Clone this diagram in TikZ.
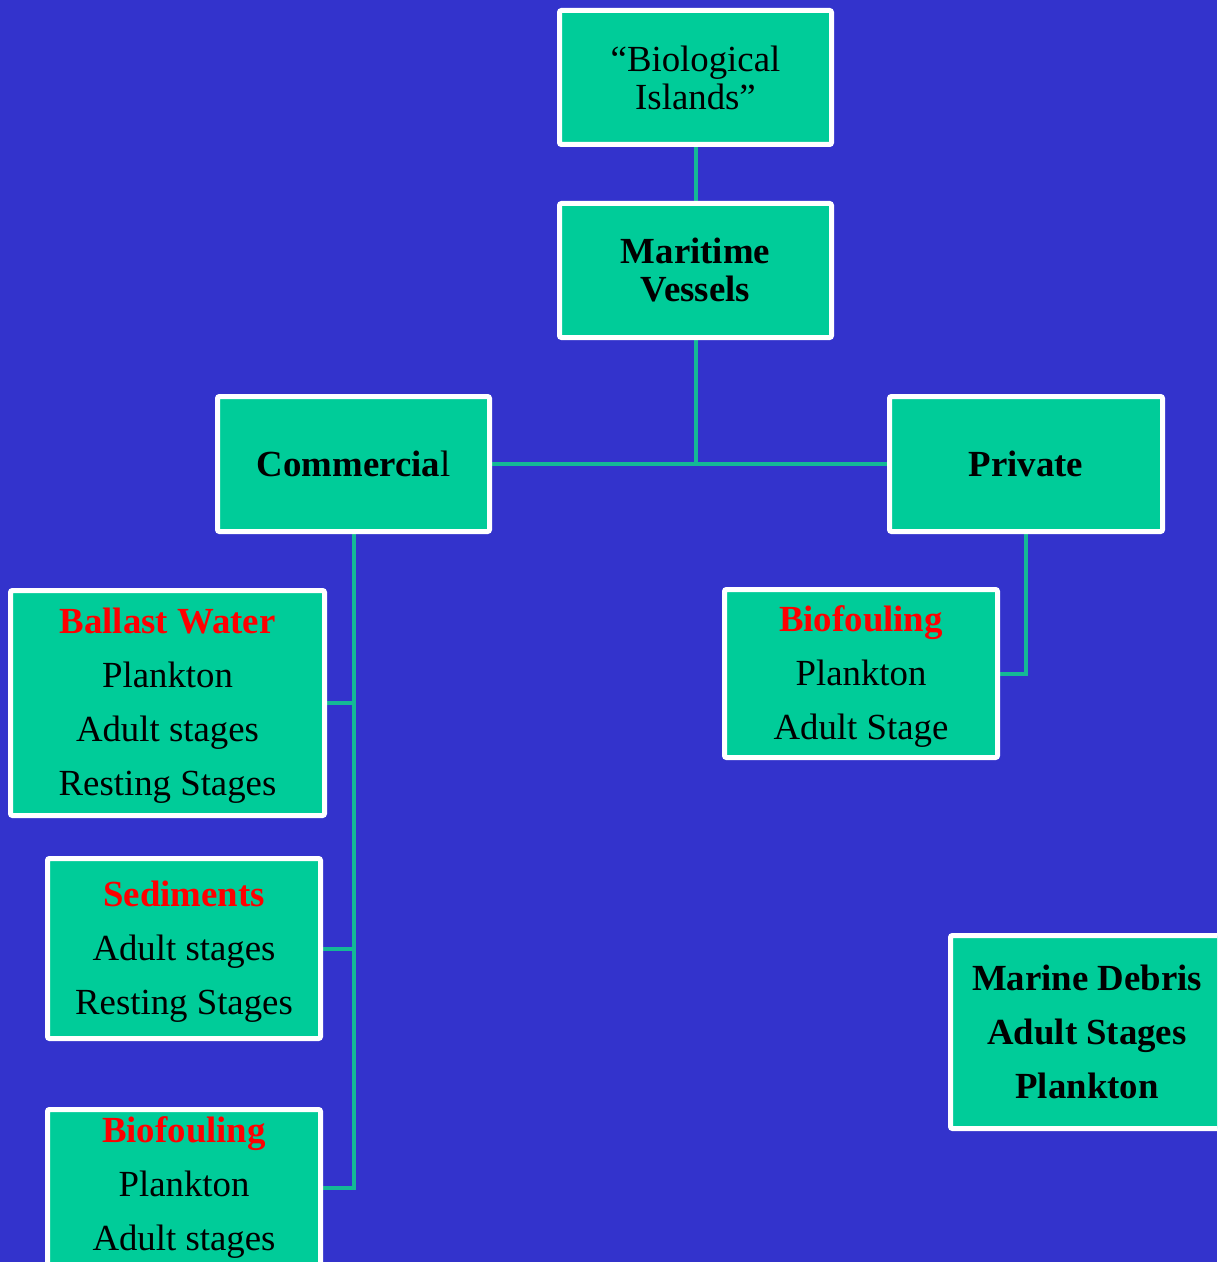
\documentclass[tikz,border=0pt]{standalone}
\usepackage{fontspec}
\setmainfont{Liberation Serif}
\definecolor{bgblue}{RGB}{51,51,204}
\definecolor{boxgreen}{RGB}{0,204,153}
\definecolor{linegreen}{RGB}{20,185,150}
\definecolor{redtxt}{RGB}{255,0,0}
\pgfdeclarelayer{bg}
\pgfdeclarelayer{lines}
\pgfsetlayers{bg,lines,main}
\newcommand{\toppad}{\rule{0pt}{23.5pt}}
\tikzset{
  boxnode/.style={draw=white, fill=boxgreen, line width=3.75pt, rounded corners=1.5pt,
    inner sep=0pt, align=center, text=black, anchor=center},
  bodytext/.style={font=\fontsize{27.6pt}{40.5pt}\selectfont},
  titletext/.style={font=\fontsize{27.6pt}{28.5pt}\selectfont},
  conn/.style={draw=linegreen, line width=3pt}
}
\begin{document}
\begin{tikzpicture}[x=0.75pt,y=-0.75pt]
\begin{pgfonlayer}{bg}
\fill[bgblue] (0,0) rectangle (1217,1262);
\end{pgfonlayer}
\useasboundingbox (0,0) rectangle (1217,1262);
\clip (0,0) rectangle (1217,1262);

\node[boxnode, titletext, minimum width=204pt, minimum height=100.5pt] (bio) at (695.5,77.5)
  {``Biological\\Islands''};
\node[boxnode, titletext, minimum width=204pt, minimum height=100.5pt] (mar) at (695.5,270.5)
  {\textbf{Maritime}\\\textbf{Vessels}};
\node[boxnode, titletext, minimum width=204pt, minimum height=101.25pt] (com) at (353.5,464)
  {\textbf{Commercia}l};
\node[boxnode, titletext, minimum width=204.75pt, minimum height=101.25pt] (pri) at (1026,464)
  {\textbf{Private}};
\node[boxnode, bodytext, minimum width=235.5pt, minimum height=168.75pt] (bal) at (167.5,703)
  {\toppad\textcolor{redtxt}{\textbf{Ballast Water}}\\Plankton\\Adult stages\\Resting Stages};
\node[boxnode, bodytext, minimum width=204.75pt, minimum height=135pt] (sed) at (184,948.5)
  {\toppad\textcolor{redtxt}{\textbf{Sediments}}\\Adult stages\\Resting Stages};
\node[boxnode, bodytext, minimum width=204.75pt, minimum height=117pt] (bfc) at (184,1187.5)
  {\textcolor{redtxt}{\textbf{Biofouling}}\\Plankton\\Adult stages};
\node[boxnode, bodytext, minimum width=204.75pt, minimum height=126pt] (bfp) at (861,673.5)
  {\toppad\textcolor{redtxt}{\textbf{Biofouling}}\\Plankton\\Adult Stage};
\node[boxnode, bodytext, minimum width=204.75pt, minimum height=144.75pt] (deb) at (1087,1032)
  {\textbf{Marine Debris}\\\textbf{Adult Stages}\\\textbf{Plankton}};

\begin{pgfonlayer}{lines}
\draw[conn] (bio.south) -- (mar.north);
\draw[conn] (mar.south) -- (mar.south |- com.east);
\draw[conn] (com.east) -- (pri.west);
\draw[conn] (com.south) -- (com.south |- bfc.east) -- (bfc.east);
\draw[conn] (bal.east) -- (bal.east -| com.south);
\draw[conn] (sed.east) -- (sed.east -| com.south);
\draw[conn] (pri.south) |- (bfp.east);
\end{pgfonlayer}
\end{tikzpicture}
\end{document}
